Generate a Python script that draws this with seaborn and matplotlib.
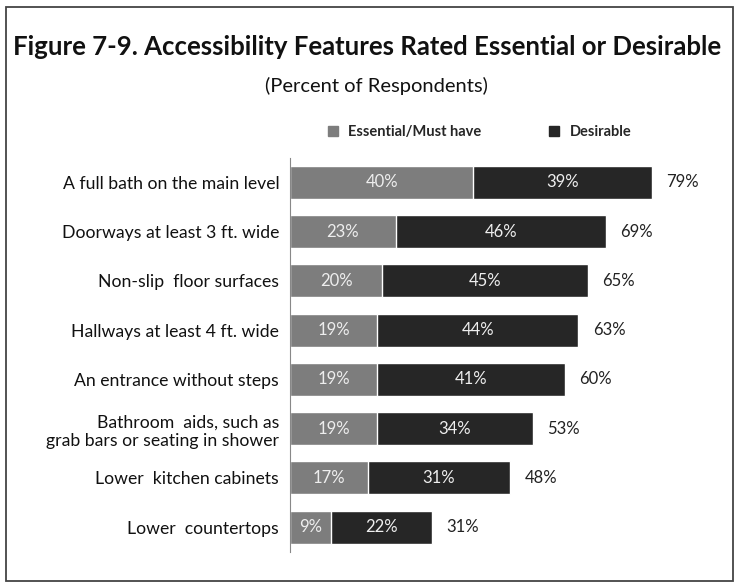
import matplotlib
matplotlib.use("Agg")
import matplotlib.pyplot as plt
import seaborn as sns
import pandas as pd
from matplotlib.patches import Rectangle
from matplotlib.lines import Line2D

features = ["A full bath on the main level",
            "Doorways at least 3 ft. wide",
            "Non-slip  floor surfaces",
            "Hallways at least 4 ft. wide",
            "An entrance without steps",
            "Bathroom  aids, such as\ngrab bars or seating in shower",
            "Lower  kitchen cabinets",
            "Lower  countertops"]
essential = [40, 23, 20, 19, 19, 19, 17, 9]
desirable = [39, 46, 45, 44, 41, 34, 31, 22]
total = [79, 69, 65, 63, 60, 53, 48, 31]

df = pd.DataFrame({"feature": features, "essential": essential,
                   "desirable": desirable, "total": total})

c_ess = "#7d7d7d"
c_des = "#262626"

sns.set_style("white")
plt.rcParams["font.family"] = ["Lato", "DejaVu Sans"]

fig = plt.figure(figsize=(7.35, 5.84), dpi=100)
ax = fig.add_axes([0.395, 0.055, 0.56, 0.675])

sns.barplot(data=df, x="total", y="feature", color=c_des, width=0.67,
            saturation=1, ax=ax)
sns.barplot(data=df, x="essential", y="feature", color=c_ess, width=0.67,
            saturation=1, ax=ax)

for i in range(len(features)):
    ax.text(essential[i] / 2, i, f"{essential[i]}%", ha="center", va="center",
            color="#eeeeee", fontsize=12)
    ax.text(essential[i] + desirable[i] / 2, i, f"{desirable[i]}%", ha="center",
            va="center", color="#eeeeee", fontsize=12)
    ax.text(total[i] + 3.2, i, f"{total[i]}%", ha="left", va="center",
            color="#222222", fontsize=12)

ax.set_xlim(0, 90)
ax.set_ylim(7.5, -0.5)
ax.set_xlabel("")
ax.set_ylabel("")
ax.set_xticks([])
ax.set_yticks(range(len(features)))
ax.set_yticklabels(features, fontsize=12.7, color="#111111")
ax.tick_params(axis="y", length=0, pad=8)
ax.set_yticks([i - 0.5 for i in range(len(features) + 1)], minor=True)
ax.tick_params(axis="y", which="minor", length=4, color="#888888", width=0.8)
for side in ["top", "right", "bottom"]:
    ax.spines[side].set_visible(False)
ax.spines["left"].set_color("#888888")
ax.spines["left"].set_linewidth(0.8)

handles = [Line2D([], [], marker="s", ls="", color=c_ess, markersize=7),
           Line2D([], [], marker="s", ls="", color=c_des, markersize=7)]
leg = fig.legend(handles, ["Essential/Must have", "Desirable"], ncol=2,
                 loc="center", bbox_to_anchor=(0.646, 0.774), frameon=False,
                 handletextpad=0.05, columnspacing=4.0,
                 prop={"weight": "bold", "size": 10.5})

fig.text(0.5, 0.92, "Figure 7-9. Accessibility Features Rated Essential or Desirable",
         ha="center", va="center", fontsize=18.5, weight="bold", color="#111111")
fig.text(0.512, 0.853, "(Percent of Respondents)", ha="center", va="center",
         fontsize=14.5, color="#111111")

fig.patches.append(Rectangle((6 / 735, 3 / 584), 727 / 735, 574 / 584,
                             transform=fig.transFigure, fill=False,
                             edgecolor="#444444", linewidth=1.3))

fig.savefig("out.png", dpi=100)
